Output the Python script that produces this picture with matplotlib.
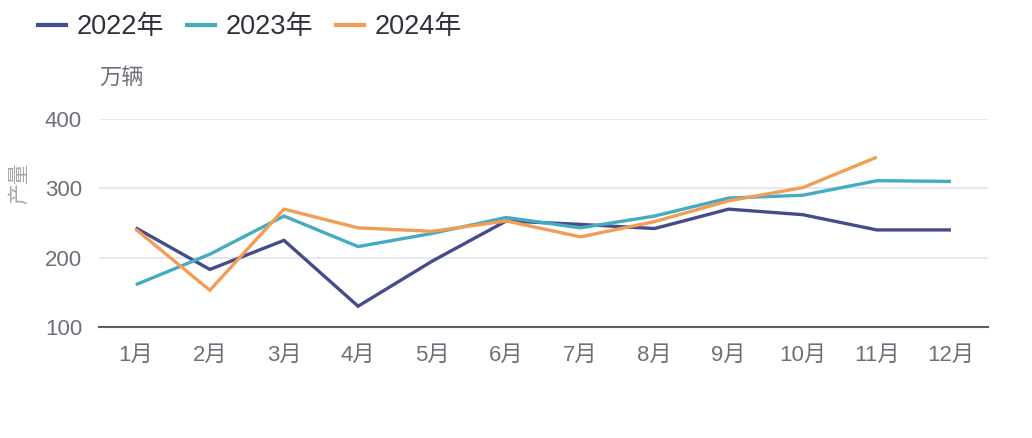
import numpy as np
import matplotlib
matplotlib.use("Agg")
from matplotlib import pyplot as plt
from matplotlib.lines import Line2D

# 数字用 Liberation Sans，中文回落到 Noto Sans CJK SC
plt.rcParams['font.family'] = ['Liberation Sans', 'Noto Sans CJK SC', 'DejaVu Sans']

months = ["1月", "2月", "3月", "4月", "5月", "6月", "7月", "8月", "9月", "10月", "11月", "12月"]
y2022 = [243, 183, 225, 130, 195, 253, 248, 242, 270, 262, 240, 240]
y2023 = [161, 205, 260, 216, 235, 258, 243, 260, 286, 290, 311, 310]
y2024 = [241, 153, 270, 243, 238, 253, 230, 252, 282, 301, 345]
series_names = ["2022年", "2023年", "2024年"]
colors = ["#464c8b", "#45abc1", "#f09d56"]
yticks = [100, 200, 300, 400]

fig = plt.figure(figsize=(10.32, 4.38), dpi=100)
ax = fig.add_axes([98.7 / 1032, 1 - 327 / 438, (988 - 98.7) / 1032, (327 - 119) / 438])

x = np.arange(len(months))
for vals, c in zip([y2022, y2023, y2024], colors):
    ax.plot(x[:len(vals)], vals, color=c, lw=2.4, solid_capstyle="butt", solid_joinstyle="miter", zorder=3)

ax.set_xlim(-0.5, len(months) - 0.5)
ax.set_ylim(100, 400)
ax.set_yticks(yticks)
ax.set_xticks(x)
ax.set_xticklabels(months)
ax.grid(axis="y", color="#e4e4f4", lw=1.3, zorder=0)
for s in ["top", "right", "left"]:
    ax.spines[s].set_visible(False)
ax.spines["bottom"].set_color("#5c5e66")
ax.spines["bottom"].set_linewidth(1.5)
ax.tick_params(axis="both", length=0, labelsize=16, labelcolor="#6e7079")
ax.tick_params(axis="x", pad=13)
ax.tick_params(axis="y", pad=12)

# 单位 & 轴名
fig.text(99 / 1032, 1 - 78 / 438, "万辆", fontsize=16, color="#6e7079", va="center", ha="left")
fig.text(20 / 1032, 1 - 183 / 438, "产量", fontsize=15, color="#a4a6ae", va="center", ha="center", rotation=90)

handles = [Line2D([0], [0], color=c, lw=3) for c in colors]
leg = fig.legend(handles, series_names, loc="upper left", bbox_to_anchor=(22 / 1032, 1.005), ncol=3,
                 frameon=False, fontsize=19.5, handlelength=1.02, handletextpad=0.4, columnspacing=0.85,
                 labelcolor="#2f323a", borderaxespad=0.2)

fig.savefig("out.png", dpi=100)
